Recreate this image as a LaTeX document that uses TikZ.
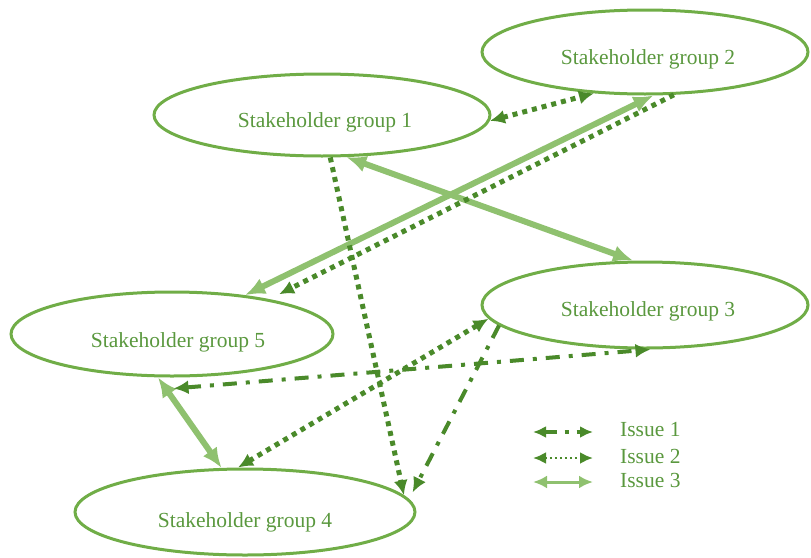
\documentclass[tikz,border=0pt]{standalone}
\usepackage{fontspec}
\setmainfont{Liberation Serif}
\usetikzlibrary{shapes.geometric,arrows.meta}

\definecolor{ringgreen}{HTML}{70AD47}
\definecolor{labelgreen}{HTML}{5A983E}
\definecolor{darkgreen}{HTML}{4A8A2A}
\definecolor{lightgreen}{HTML}{8FC16F}

\tikzset{
  group/.style={ellipse, draw=ringgreen, line width=3pt, inner sep=0pt},
  grouptext/.style={text=labelgreen, font=\fontsize{21.5}{25}\selectfont, inner sep=0pt},
  dtip/.tip={Latex[length=15pt,width=14pt]},
  ltip/.tip={Latex[length=20pt,width=17pt]},
  smalldtip/.tip={Latex[length=13pt,width=12pt]},
  smallltip/.tip={Latex[length=14pt,width=13pt]},
  issueone/.style={draw=darkgreen, line width=4pt, dash pattern=on 14pt off 9pt on 4pt off 9pt},
  issuetwo/.style={draw=darkgreen, line width=5pt, dash pattern=on 5pt off 5pt},
  issuethree/.style={draw=lightgreen, line width=6pt},
  keyone/.style={draw=darkgreen, line width=3.5pt, dash pattern=on 12pt off 8pt on 4pt off 8pt},
  keytwo/.style={draw=darkgreen, line width=2.5pt, dash pattern=on 2.5pt off 2.5pt},
  keythree/.style={draw=lightgreen, line width=3pt},
  keytext/.style={text=labelgreen, font=\fontsize{21.5}{25}\selectfont, anchor=west, inner sep=0pt}
}

\begin{document}
\begin{tikzpicture}[x=1pt,y=-1pt]
\useasboundingbox (0,0) rectangle (811,557);

% stakeholder groups
\node[group, minimum width=336pt, minimum height=82pt] (g1) at (322,115) {};
\node[group, minimum width=326pt, minimum height=84pt] (g2) at (645,52) {};
\node[group, minimum width=326pt, minimum height=86pt] (g3) at (645,305) {};
\node[group, minimum width=322pt, minimum height=84pt] (g5) at (172,334) {};
\node[group, minimum width=340pt, minimum height=86pt] (g4) at (245,512) {};

\node[grouptext] (t1) at (325,122) {Stakeholder group 1};
\node[grouptext] (t2) at (648,59) {Stakeholder group 2};
\node[grouptext] (t3) at (648,311) {Stakeholder group 3};
\node[grouptext] (t5) at (178,342) {Stakeholder group 5};
\node[grouptext] (t4) at (245,522) {Stakeholder group 4};

% issue 3
\draw[issuethree, ltip-ltip] (g1.-60) -- (g3.105);
\draw[issuethree, ltip-ltip] (g2.-79) -- (g5.28);
\draw[issuethree, ltip-ltip] (g5.-108) -- (g4.118);

% issue 2
\draw[issuetwo, dtip-dtip] (g1.-2) -- (g2.-141);
\draw[issuetwo, -dtip] (g2.-56) -- ([yshift=7pt]g5.17);
\draw[issuetwo, -dtip] (g1.-79) -- (g4.6);
\draw[issuetwo, dtip-dtip] (g3.-175) -- (g4.99);

% issue 1
\draw[issueone, dtip-dtip] ([yshift=-11pt]g5.-88) -- (g3.-83);
\draw[issueone, -dtip] (g3.-172) -- ([xshift=2pt,yshift=8pt]g4.4);

% key
\coordinate (k1a) at (533,432);
\coordinate (k1b) at (593,432);
\coordinate (k2a) at (533,458);
\coordinate (k2b) at (593,458);
\coordinate (k3a) at (533,482);
\coordinate (k3b) at (593,482);
\draw[keyone, smalldtip-smalldtip] (k1a) -- (k1b);
\draw[keytwo, smalldtip-smalldtip] (k2a) -- (k2b);
\draw[keythree, smallltip-smallltip] (k3a) -- (k3b);
\node[keytext] (i1) at (620,430) {Issue 1};
\node[keytext] (i2) at (620,456) {Issue 2};
\node[keytext] (i3) at (620,480) {Issue 3};
\end{tikzpicture}
\end{document}
